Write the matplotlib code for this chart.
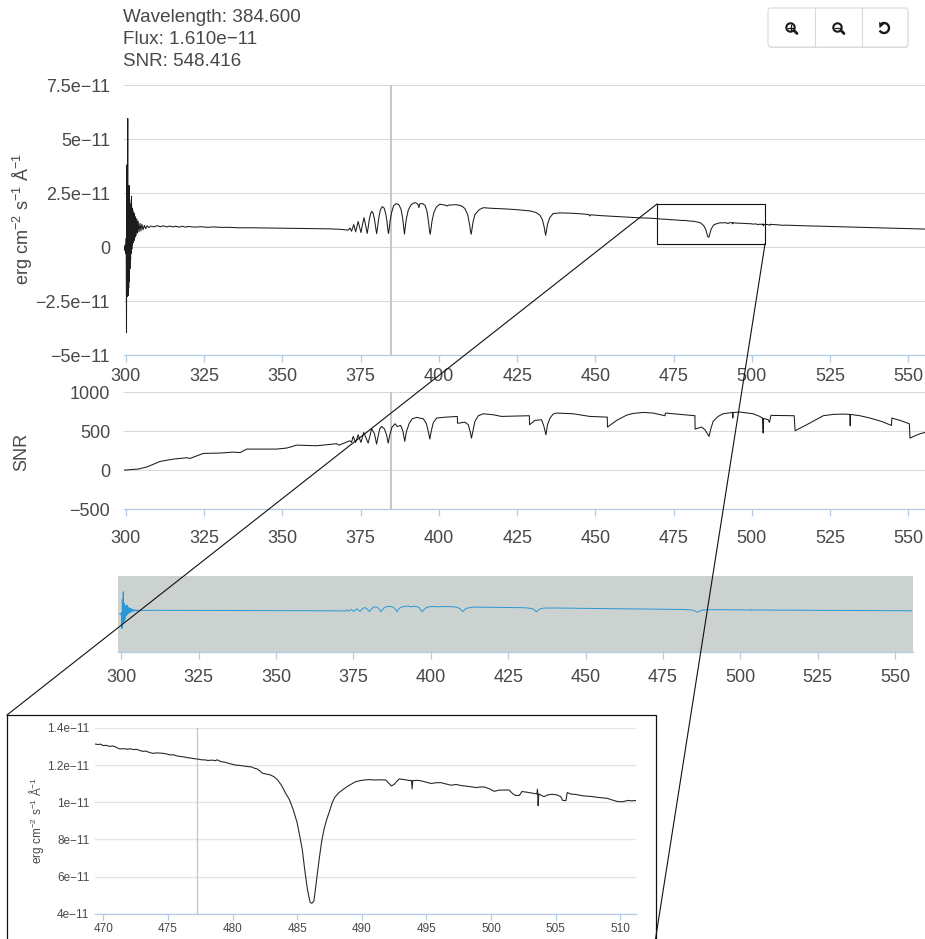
import matplotlib
matplotlib.use("Agg")
import matplotlib.pyplot as plt
from matplotlib.patches import Rectangle, FancyBboxPatch, Circle, Arc, Polygon

plt.rcParams['font.family'] = ['Liberation Sans', 'DejaVu Sans']
plt.rcParams['mathtext.fontset'] = 'custom'
plt.rcParams['mathtext.rm'] = 'Liberation Sans'
plt.rcParams['mathtext.default'] = 'regular'

# ---------- data (flux in units of 1e-11) ----------
wl_blue = [299.4,299.6,299.8,300.0,300.1,300.2,300.3,300.4,300.5,300.6,300.7,300.8,300.9,301.0,301.1,301.2,301.3,301.4,301.5,301.6,
 301.7,301.8,301.9,302.0,302.1,302.2,302.3,302.45,302.6,302.75,302.9,303.1,303.3,303.5,303.7,303.9,304.2,304.5,304.8,
 305.1,305.5,305.9,306.3,306.8,307.3,308,309,310,311,312,313,314,315,316,317,318,319,320,
 322,324,326,328,330,333,336,340,345,350,355,360,365,368.4]
flux_blue = [0.0,-0.15,0.1,-0.3,0.4,-3.95,3.8,-2.3,2.4,5.95,-2.25,2.7,-1.9,2.85,-1.6,2.2,-1.0,1.9,-0.6,2.0,
 -0.3,2.35,-0.1,1.8,0.1,1.7,0.2,1.6,0.3,1.55,0.45,1.4,0.55,1.3,0.65,1.2,0.7,1.1,0.75,
 1.05,0.8,1.0,0.85,0.98,0.9,0.97,0.93,0.99,0.94,0.98,0.93,0.97,0.93,0.96,0.92,0.96,0.92,0.95,
 0.92,0.94,0.91,0.93,0.91,0.91,0.89,0.89,0.88,0.87,0.86,0.85,0.84,0.82]

wl_balmer = [371.0,371.6,372.1,372.8,373.4,374.2,375.1,375.6,376.1,376.6,377.1,377.4,377.8,378.2,378.6,379.0,379.4,379.8,380.1,380.4,
 380.8,381.3,381.9,382.5,383.0,383.4,383.7,383.9,384.1,384.4,384.9,385.5,386.3,387.2,387.9,388.4,388.8,389.0,389.2,389.6,
 390.2,391.0,391.8,392.6,393.3,393.6,393.9,394.8,395.6,396.2,396.7,397.0,397.2,397.4,397.8,398.4,399.2,400.3,402.3,402.7,
 403.1,405.6,407.3,408.3,409.2,409.8,410.1,410.3,410.5,410.9,411.5,412.9,414.2,417.0,421.6,425.5,429.1,431.0,432.3,433.1,
 433.6,433.9,434.1,434.3,434.7,435.4,436.5,439.0,442.9,446.0,447.9,448.2,448.5,452.0,457.0,464.2,468.0]
flux_balmer = [0.78,0.88,0.73,1.04,0.70,1.18,0.67,1.05,1.36,1.0,0.63,0.9,1.3,1.55,1.65,1.55,1.3,0.9,0.62,0.9,
 1.35,1.72,1.87,1.8,1.55,1.2,0.8,0.62,0.8,1.2,1.6,1.9,2.01,1.96,1.75,1.35,0.85,0.60,0.85,1.3,
 1.7,1.93,2.03,2.05,1.98,1.82,2.0,2.01,1.92,1.65,1.15,0.75,0.59,0.75,1.2,1.6,1.85,1.98,1.93,1.90,
 1.94,1.96,1.9,1.78,1.5,1.05,0.75,0.59,0.75,1.15,1.5,1.73,1.82,1.79,1.76,1.72,1.67,1.6,1.47,1.25,
 0.95,0.7,0.54,0.7,1.05,1.35,1.55,1.58,1.56,1.53,1.50,1.44,1.49,1.45,1.41,1.35,1.33]

wl_hbeta = [469.35,469.6,469.8,470.0,470.2,470.5,470.7,470.9,471.1,471.3,471.6,471.8,472.1,472.3,472.6,472.8,473.1,473.3,473.5,473.7,
 473.9,474.1,474.4,474.7,474.9,475.2,475.4,475.7,475.9,476.2,476.5,476.8,477.0,477.3,477.6,477.9,478.1,478.4,478.7,478.8,
 479.1,479.4,479.7,480.0,480.3,480.6,480.9,481.2,481.5,481.7,481.9,482.1,482.3,482.6,482.9,483.2,483.5,483.8,484.1,484.4,
 484.7,485.0,485.2,485.4,485.6,485.8,486.0,486.14,486.3,486.5,486.7,486.9,487.1,487.3,487.5,487.7,487.9,488.2,488.5,488.9,
 489.2,489.5,489.9,490.2,490.6,491.0,491.4,491.86,492.1,492.3,492.5,492.7,492.9,493.3,493.7,493.85,493.9,493.95,494.4,494.8,
 495.1,495.4,495.7,496.1,496.5,496.9,497.3,497.7,498.1,498.5,498.9,499.2,499.5,499.9,500.25,500.6,501.0,501.4,501.7,501.9,
 502.2,502.4,502.8,503.2,503.55,503.6,503.65,503.7,504.1,504.4,504.7,505.1,505.4,505.55,505.8,505.9,506.2,506.6,507.0,507.4,
 507.8,508.2,508.6,509.0,509.4,509.8,510.2,510.6,510.9,511.3]
flux_hbeta = [1.314,1.311,1.313,1.305,1.307,1.301,1.303,1.300,1.292,1.287,1.289,1.286,1.288,1.284,1.285,1.279,1.274,1.276,1.270,1.266,
 1.263,1.266,1.265,1.263,1.260,1.255,1.256,1.250,1.247,1.245,1.240,1.238,1.235,1.233,1.229,1.228,1.225,1.227,1.224,1.229,
 1.219,1.216,1.210,1.204,1.200,1.198,1.195,1.192,1.190,1.183,1.180,1.170,1.157,1.152,1.148,1.138,1.120,1.090,1.050,1.015,
 0.960,0.890,0.820,0.745,0.630,0.530,0.462,0.456,0.468,0.580,0.690,0.790,0.860,0.910,0.950,0.995,1.025,1.050,1.066,1.086,
 1.098,1.110,1.117,1.120,1.122,1.120,1.121,1.120,1.103,1.088,1.096,1.112,1.126,1.122,1.117,1.118,1.072,1.117,1.118,1.112,
 1.106,1.101,1.105,1.106,1.099,1.092,1.096,1.090,1.087,1.083,1.079,1.083,1.082,1.072,1.059,1.065,1.066,1.066,1.045,1.037,
 1.037,1.058,1.054,1.049,1.045,1.070,0.982,1.045,1.030,1.040,1.043,1.040,1.030,1.010,1.009,1.052,1.044,1.042,1.036,1.033,
 1.031,1.027,1.024,1.021,1.012,1.004,1.003,1.010,1.008,1.010]

wl_red = [515,520,525,530,535,540,545,550,555.3]
flux_red = [0.99,0.97,0.95,0.93,0.91,0.89,0.87,0.85,0.83]

snr_wavelength = [
 299.4,303.9,306.6,308.8,310.9,315.1,319.4,320.5,324.7,330.0,334.3,336.5,338.6,342.8,348.1,351.3,352.9,354.5,360.9,367.3,368.1,371.6,372.1,
 372.6,373.4,374.2,375.1,376.0,377.4,378.5,379.4,380.1,380.6,381.1,381.7,382.6,383.3,383.8,384.3,385.0,386.0,386.7,387.8,388.5,389.1,389.6,390.5,391.5,392.9,395.0,396.0,396.7,397.1,397.5,398.2,
 399.3,402.0,405.9,405.95,406.5,408.3,409.4,410.1,410.4,410.75,411.5,412.6,414.2,417.4,420.0,428.9,428.95,430.7,432.8,433.5,434.2,434.7,435.5,436.5,437.6,442.9,
 448.2,453.8,453.85,456.8,460.0,462.1,465.3,468.5,472.2,472.4,481.8,481.85,483.9,485.0,486.3,486.8,487.6,489.2,490.8,493.8,493.9,494.0,496.2,500.4,502.5,503.4,503.6,
 503.7,505.2,505.6,506.1,513.5,513.8,517.5,522.8,526.0,529.2,531.3,531.4,531.5,534.5,537.7,541.4,544.6,544.7,547.3,550.3,550.5,552.1,553.7,555.3]
snr = [
 0,13,39,75,111,141,159,150,214,219,231,225,270,270,270,283,300,321,313,339,321,377,356,
 433,356,454,356,484,347,531,470,334,440,530,561,530,450,347,450,550,596,561,574,500,369,490,600,660,677,660,600,480,399,490,610,
 669,680,690,604,604,617,583,476,411,476,626,699,724,711,690,699,583,639,647,570,454,583,669,720,733,724,
 690,681,553,639,707,729,741,733,699,733,699,527,553,519,433,519,626,690,724,741,669,741,746,724,690,669,476,
 665,647,613,703,699,506,583,699,716,720,716,570,716,699,669,626,574,669,639,596,411,441,467,484]

cursor_wavelength = 384.6
inset_cursor_wavelength = 477.28

x_ticks = [300,325,350,375,400,425,450,475,500,525,550]
flux_ticks = [-5,-2.5,0,2.5,5,7.5]
flux_tick_labels = ['\u22125e\u221211','\u22122.5e\u221211','0','2.5e\u221211','5e\u221211','7.5e\u221211']
snr_ticks = [-500,0,500,1000]
snr_tick_labels = ['\u2212500','0','500','1000']
inset_x_ticks = [470,475,480,485,490,495,500,505,510]
inset_y_ticks = [0.4,0.6,0.8,1.0,1.2,1.4]
inset_y_labels = ['4e\u221211','6e\u221211','8e\u221211','1e\u221211','1.2e\u221211','1.4e\u221211']
info_lines = ['Wavelength: 384.600','Flux: 1.610e\u221211','SNR: 548.416']
flux_label = 'erg cm$^{-2}$ s$^{-1}$ \u00c5$^{-1}$'

wavelength = wl_blue + wl_balmer + wl_hbeta + wl_red
flux = flux_blue + flux_balmer + flux_hbeta + flux_red

# ---------- layout ----------
W, H = 925, 939
TXT = '#484848'
GRID = '#d3dbd9'
AXC = '#b4cbe4'
fig = plt.figure(figsize=(W/100, H/100), dpi=100)

def px_axes(l, t, r, b, **kw):
    return fig.add_axes([l/W, 1-b/H, (r-l)/W, (b-t)/H], **kw)

def style(ax, size, pad, grid=GRID, gridlw=0.75, tick=5):
    for s in ['top','right','left']:
        ax.spines[s].set_visible(False)
    ax.spines['bottom'].set_color(AXC)
    ax.spines['bottom'].set_linewidth(0.9)
    ax.tick_params(axis='x', length=tick, width=0.9, color=AXC, labelcolor=TXT, labelsize=size, pad=pad)
    ax.tick_params(axis='y', length=0, labelcolor=TXT, labelsize=size, pad=pad)
    ax.set_axisbelow(True)
    if grid:
        ax.grid(axis='y', color=grid, linewidth=gridlw)

LINE = '#1c1c1c'
# main flux
a1 = px_axes(124, 85, 925, 355)
a1.plot(wavelength, flux, color=LINE, lw=0.75)
a1.axvline(cursor_wavelength, color='#c6c9c9', lw=1.5, zorder=1)
a1.set_xlim(299.4, 555.3); a1.set_ylim(-5, 7.5)
a1.set_xticks(x_ticks); a1.set_yticks(flux_ticks); a1.set_yticklabels(flux_tick_labels)
style(a1, 13, 4.2)
a1.tick_params(axis='y', pad=10)
fig.text(23/W, 1-219/H, flux_label, rotation=90, ha='center', va='center', fontsize=13, color=TXT)

# SNR
a2 = px_axes(124, 392.3, 925, 509)
a2.plot(snr_wavelength, snr, color=LINE, lw=0.75)
a2.axvline(cursor_wavelength, color='#c6c9c9', lw=1.5, zorder=1)
a2.set_xlim(299.4, 555.3); a2.set_ylim(-500, 1000)
a2.set_xticks(x_ticks); a2.set_yticks(snr_ticks); a2.set_yticklabels(snr_tick_labels)
style(a2, 13, 10.2)
a2.tick_params(axis='y', pad=10)
fig.text(22/W, 1-452/H, 'SNR', rotation=90, ha='center', va='center', fontsize=13, color=TXT)

# navigator
a3 = px_axes(118, 576, 913, 651.7)
a3.set_facecolor('#cbd2d0')
a3.plot(wavelength, flux, color='#2b97d6', lw=0.7)
a3.set_xlim(298.9, 555.8); a3.set_ylim(-10.2, 10.2)
a3.set_xticks(x_ticks); a3.set_yticks([])
style(a3, 13, 7.5, grid=None)

# overlay in pixel coordinates: zoom connectors, frame, selection, buttons
ov = fig.add_axes([0, 0, 1, 1], zorder=5)
ov.set_xlim(0, W); ov.set_ylim(H, 0); ov.axis('off'); ov.patch.set_alpha(0)
ov.plot([657, 7], [204, 715], color='#111111', lw=0.8)
ov.plot([765, 655.5], [244, 939], color='#111111', lw=0.8)
ov.add_patch(Rectangle((657, 204), 108, 40, fill=False, ec='#111111', lw=0.8))
ov.add_patch(Rectangle((7, 715), 648.5, 240, fc='white', ec='#111111', lw=0.9))

# buttons
ov.add_patch(FancyBboxPatch((768.5, 9), 140, 39, boxstyle='round,pad=0,rounding_size=3', fc='#e6e6e6', ec='none'))
ov.add_patch(FancyBboxPatch((768, 8), 140, 39, boxstyle='round,pad=0,rounding_size=3', fc='white', ec='#d8d8d8', lw=0.8))
for dx in (814.5, 861.5):
    ov.plot([dx, dx], [8, 47], color='#d8d8d8', lw=0.8)
ICON = '#1a1a1a'
for cx, sym in ((791, '+'), (838, '-')):
    ov.add_patch(Circle((cx-0.5, 27.5), 4.2, fc='none', ec=ICON, lw=1.5))
    ov.plot([cx+3, cx+6], [30.5, 33.5], color=ICON, lw=2.0, solid_capstyle='round')
    ov.plot([cx-2.6, cx+1.6], [27.5, 27.5], color=ICON, lw=0.9)
    if sym == '+':
        ov.plot([cx-0.5, cx-0.5], [25.4, 29.6], color=ICON, lw=0.9)
ov.add_patch(Arc((884, 28), 10, 10, theta1=-120, theta2=150, color=ICON, lw=1.7))
ov.add_patch(Polygon([[879, 22], [884, 24.5], [879.5, 28]], closed=True, fc=ICON, ec='none'))

for line, y in zip(info_lines, (18, 39.5, 61)):
    ov.text(123, y, line, fontsize=13.6, color=TXT, ha='left', va='center')

# inset
a4 = px_axes(95, 728, 635.7, 913.7)
a4.set_zorder(6); a4.patch.set_alpha(0)
a4.plot(wavelength, flux, color='#2a2a2a', lw=0.8)
a4.axvline(inset_cursor_wavelength, color='#c9c4bf', lw=0.9, zorder=1)
a4.set_xlim(469.36, 511.2); a4.set_ylim(0.4, 1.4)
a4.set_xticks(inset_x_ticks); a4.set_yticks(inset_y_ticks); a4.set_yticklabels(inset_y_labels)
style(a4, 8.5, 2.6, grid='#e4e4e4', gridlw=1.0, tick=4)
a4.tick_params(axis='y', pad=4)
ov2 = fig.add_axes([0, 0, 1, 1], zorder=7); ov2.axis('off'); ov2.patch.set_alpha(0)
ov2.text(37/W, 1-820/H, flux_label, rotation=90, ha='center', va='center', fontsize=8.5, color=TXT, transform=fig.transFigure)

fig.savefig('out.png', dpi=100)
